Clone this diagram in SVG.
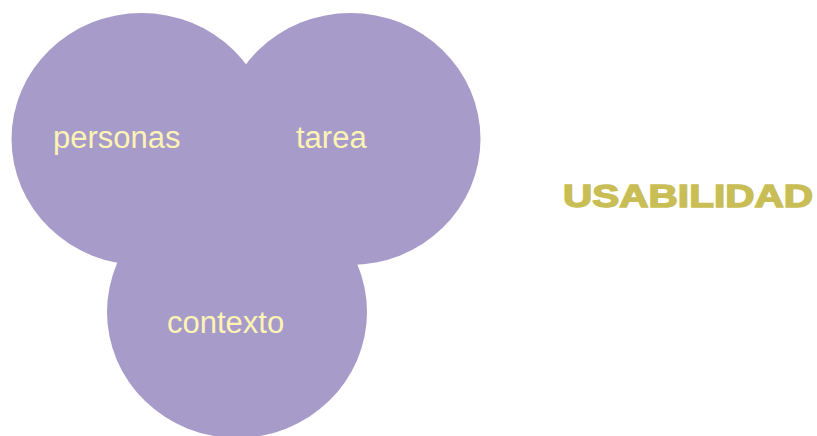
<svg xmlns="http://www.w3.org/2000/svg" width="817" height="436" viewBox="0 0 817 436">
<style>
.c{fill:#A79BC9;}
.t{font-family:"Liberation Sans",Arial,sans-serif;font-size:31px;fill:#FDF3B4;}
.u{font-family:"Liberation Sans",Arial,sans-serif;font-size:31px;font-weight:bold;fill:#C9BD55;stroke:#C9BD55;stroke-width:1.4;}
</style>
<rect width="817" height="436" fill="#FFFFFF"/>
<g id="connectors"></g>
<g id="personas"><ellipse class="c" cx="141.5" cy="139" rx="130" ry="126"/></g>
<g id="tarea"><ellipse class="c" cx="350.5" cy="139" rx="130" ry="126"/></g>
<g id="contexto"><ellipse class="c" cx="237" cy="312" rx="130" ry="126"/></g>
<g id="labels">
<text class="t" x="53" y="148">personas</text>
<text class="t" x="296" y="148">tarea</text>
<text class="t" x="167" y="333">contexto</text>
</g>
<g id="usabilidad"><text class="u" x="563" y="207" textLength="250" lengthAdjust="spacingAndGlyphs">USABILIDAD</text></g>
</svg>
